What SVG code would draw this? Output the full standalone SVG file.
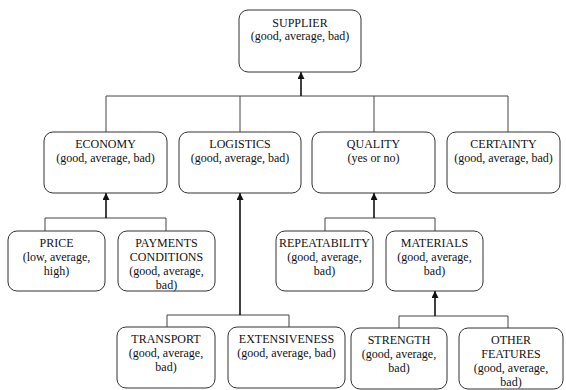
<svg xmlns="http://www.w3.org/2000/svg" width="566" height="390" viewBox="0 0 566 390">
<defs>
<marker id="arr" viewBox="0 0 10 10" refX="10" refY="5" markerWidth="7" markerHeight="7" markerUnits="userSpaceOnUse" orient="auto">
<path d="M0,0 L10,5 L0,10 z" fill="#111"/>
</marker>
</defs>
<style>
.box{fill:#fff;stroke:#333;stroke-width:1}
text{font-family:'Liberation Serif','Times New Roman','DejaVu Serif',serif;font-size:12px;fill:#111;text-anchor:middle}
.ln{fill:none;stroke:#444;stroke-width:1}
.ar{fill:none;stroke:#111;stroke-width:1.6;marker-end:url(#arr)}
</style>
<rect width="566" height="390" fill="#fff"/>
<g id="connectors">
<path class="ln" d="M106,96 H508 M240,96 V132 M374,96 V132 M508,96 V132 M106,96 V132"/>
<path class="ar" d="M301,96 V72"/>
<path class="ln" d="M45,231 V218 H166 V231"/>
<path class="ar" d="M106,218 V193"/>
<path class="ln" d="M167,327 V315 H289 V327"/>
<path class="ar" d="M240,315 V193"/>
<path class="ln" d="M325,231 V218 H435 V231"/>
<path class="ar" d="M374,218 V193"/>
<path class="ln" d="M399,328 V316 H508 V328"/>
<path class="ar" d="M435,316 V291"/>
</g>
<g id="supplier"><rect class="box" x="239" y="10" width="122" height="62" rx="9"/><text x="300" y="27">SUPPLIER</text><text x="300" y="40">(good, average, bad)</text></g>
<g id="economy"><rect class="box" x="44" y="132" width="123" height="61" rx="9"/><text x="105.5" y="148">ECONOMY</text><text x="105.5" y="162">(good, average, bad)</text></g>
<g id="logistics"><rect class="box" x="179" y="132" width="122" height="61" rx="9"/><text x="240" y="148">LOGISTICS</text><text x="240" y="162">(good, average, bad)</text></g>
<g id="quality"><rect class="box" x="312" y="132" width="123" height="61" rx="9"/><text x="373.5" y="148">QUALITY</text><text x="373.5" y="162">(yes or no)</text></g>
<g id="certainty"><rect class="box" x="447" y="132" width="113" height="61" rx="9"/><text x="503.5" y="148">CERTAINTY</text><text x="503.5" y="162">(good, average, bad)</text></g>
<g id="price"><rect class="box" x="8" y="231" width="97" height="60" rx="9"/><text x="56.5" y="247">PRICE</text><text x="56.5" y="261">(low, average,</text><text x="56.5" y="275">high)</text></g>
<g id="payments"><rect class="box" x="118" y="231" width="97" height="60" rx="9"/><text x="166.5" y="247">PAYMENTS</text><text x="166.5" y="261">CONDITIONS</text><text x="166.5" y="275">(good, average,</text><text x="166.5" y="289">bad)</text></g>
<g id="repeatability"><rect class="box" x="276" y="231" width="97" height="60" rx="9"/><text x="324.5" y="247">REPEATABILITY</text><text x="324.5" y="261">(good, average,</text><text x="324.5" y="275">bad)</text></g>
<g id="materials"><rect class="box" x="386" y="231" width="97" height="60" rx="9"/><text x="434.5" y="247">MATERIALS</text><text x="434.5" y="261">(good, average,</text><text x="434.5" y="275">bad)</text></g>
<g id="transport"><rect class="box" x="117" y="327" width="98" height="61" rx="9"/><text x="166" y="343">TRANSPORT</text><text x="166" y="357">(good, average,</text><text x="166" y="371">bad)</text></g>
<g id="extensiveness"><rect class="box" x="228" y="327" width="117" height="61" rx="9"/><text x="286.5" y="343">EXTENSIVENESS</text><text x="286.5" y="357">(good, average, bad)</text></g>
<g id="strength"><rect class="box" x="351" y="328" width="96" height="61" rx="9"/><text x="399" y="344">STRENGTH</text><text x="399" y="358">(good, average,</text><text x="399" y="372">bad)</text></g>
<g id="other"><rect class="box" x="459" y="328" width="104" height="61" rx="9"/><text x="511" y="344">OTHER</text><text x="511" y="358">FEATURES</text><text x="511" y="372">(good, average,</text><text x="511" y="386">bad)</text></g>
</svg>
